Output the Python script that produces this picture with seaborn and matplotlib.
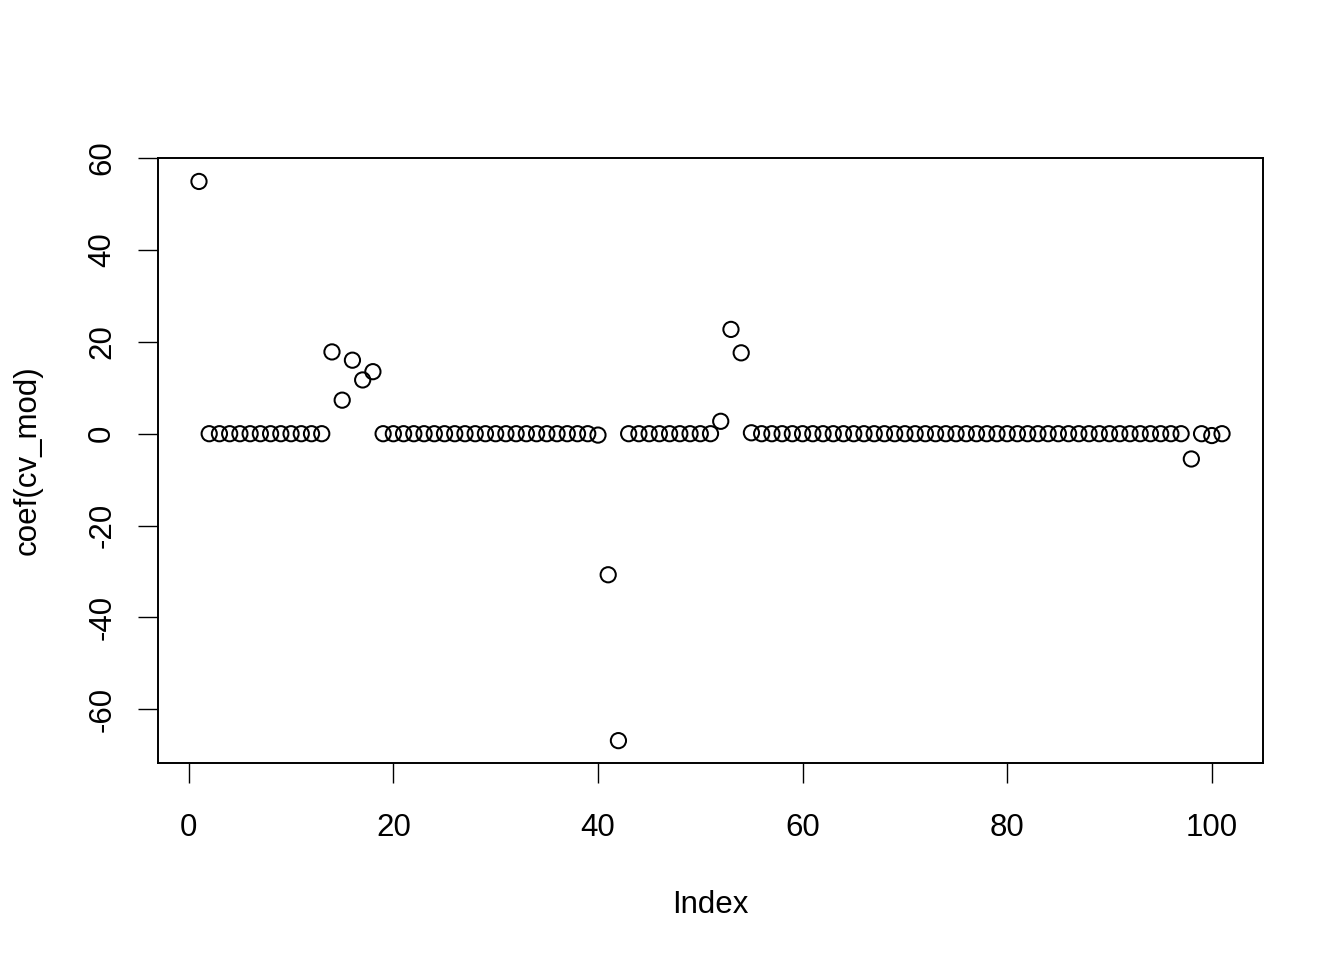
import numpy as np
import pandas as pd
import matplotlib
matplotlib.use("Agg")
import matplotlib.pyplot as plt
import seaborn as sns

# coefficients, one per index 1..101
coef = [
    54.9,
    0.0, 0.0, 0.0, 0.0, 0.0, 0.0, 0.0, 0.0, 0.0, 0.0, 0.0, 0.0,      # 2-13
    17.8, 7.3, 16.0, 11.7, 13.5,                                      # 14-18
    0.0, 0.0, 0.0, 0.0, 0.0, 0.0, 0.0, 0.0, 0.0, 0.0, 0.0,            # 19-29
    0.0, 0.0, 0.0, 0.0, 0.0, 0.0, 0.0, 0.0, 0.0, 0.0,                 # 30-39
    -0.3, -30.7, -66.8,                                               # 40-42
    0.0, 0.0, 0.0, 0.0, 0.0, 0.0, 0.0, 0.0, 0.0,                      # 43-51
    2.7, 22.7, 17.6, 0.2,                                             # 52-55
    0.0, 0.0, 0.0, 0.0, 0.0, 0.0, 0.0, 0.0, 0.0, 0.0,                 # 56-65
    0.0, 0.0, 0.0, 0.0, 0.0, 0.0, 0.0, 0.0, 0.0, 0.0,                 # 66-75
    0.0, 0.0, 0.0, 0.0, 0.0, 0.0, 0.0, 0.0, 0.0, 0.0,                 # 76-85
    0.0, 0.0, 0.0, 0.0, 0.0, 0.0, 0.0, 0.0, 0.0, 0.0,                 # 86-95
    0.0, 0.0,                                                         # 96-97
    -5.5, 0.0, -0.4, 0.0,                                             # 98-101
]
x_ticks = [0, 20, 40, 60, 80, 100]
y_ticks = [-60, -40, -20, 0, 20, 40, 60]

df = pd.DataFrame({"Index": np.arange(1, len(coef) + 1), "coef": coef})

sns.set_style("white")
plt.rcParams["font.family"] = ["Liberation Sans", "DejaVu Sans"]
plt.rcParams["axes.unicode_minus"] = False
plt.rcParams["text.color"] = "black"
plt.rcParams["axes.labelcolor"] = "black"

fig = plt.figure(figsize=(13.44, 9.6), dpi=100)
ax = fig.add_axes([0.1176, 0.2052, 0.9397 - 0.1176, 0.8354 - 0.2052])

sns.scatterplot(data=df, x="Index", y="coef", ax=ax, marker="o", s=120,
                facecolor="none", edgecolor="black", linewidth=1.45)

# R-style 4% padding
xr = df["Index"].max() - df["Index"].min()
ax.set_xlim(df["Index"].min() - 0.04 * xr, df["Index"].max() + 0.04 * xr)
yr = df["coef"].max() - df["coef"].min()
ax.set_ylim(df["coef"].min() - 0.04 * yr, df["coef"].max() + 0.04 * yr)

ax.set_xticks(x_ticks)
ax.set_yticks(y_ticks)
ax.set_yticklabels([str(t) for t in y_ticks], rotation=90, va="center")
ax.tick_params(axis="both", direction="out", length=14.4, width=1.0,
               labelsize=22.5, colors="black", bottom=True, left=True)
ax.tick_params(axis="x", pad=21.6)
ax.tick_params(axis="y", pad=15.0)
for sp in ax.spines.values():
    sp.set_linewidth(1.4)
    sp.set_color("black")

ax.set_xlabel("Index", fontsize=22.5, labelpad=34)
ax.set_ylabel("coef(cv_mod)", fontsize=22.5, labelpad=32)
ax.grid(False)

fig.savefig("out.png", dpi=100, facecolor="white")
